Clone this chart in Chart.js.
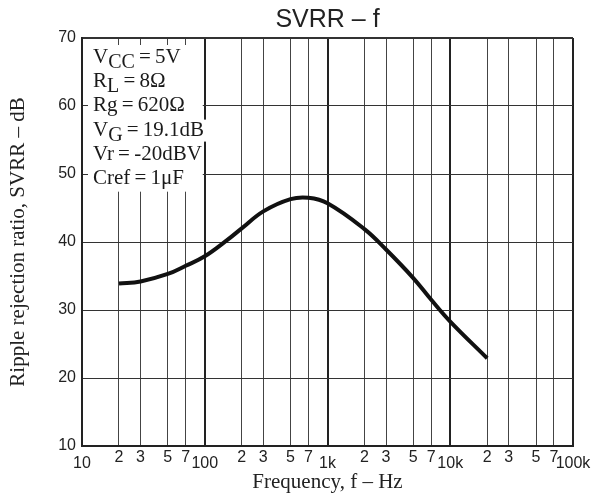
<!DOCTYPE html>
<html>
<head>
<meta charset="utf-8">
<script src="https://cdn.jsdelivr.net/npm/chart.js@4.4.1/dist/chart.umd.min.js"></script>
<style>
  body { margin: 0; background: #fff; }
</style>
</head>
<body>
<canvas id="svrrChart" width="591" height="500"></canvas>
<script>
// SVRR vs frequency
const frecuencias = [20, 30, 50, 70, 100, 150, 200, 300, 500, 700, 1000, 2000, 3000, 5000, 7000, 10000, 20000];
const svrr = [33.9, 34.2, 35.3, 36.5, 37.9, 40.2, 42.0, 44.5, 46.3, 46.5, 45.7, 41.9, 38.9, 34.7, 31.5, 28.3, 22.9];

const xTicks = [10, 20, 30, 50, 70, 100, 200, 300, 500, 700, 1000, 2000, 3000, 5000, 7000,
  10000, 20000, 30000, 50000, 70000, 100000];
const xLabels = ["10", "2", "3", "5", "7", "100", "2", "3", "5", "7", "1k", "2", "3", "5", "7",
  "10k", "2", "3", "5", "7", "100k"];
const decadas = [10, 100, 1000, 10000, 100000];

const eq = "\u2009=\u2009";
const condiciones = [
  ["V", "CC", eq + "5V"],
  ["R", "L", eq + "8Ω"],
  ["Rg" + eq + "620Ω", "", ""],
  ["V", "G", eq + "19.1dB"],
  ["Vr" + eq + "-20dBV", "", ""],
  ["Cref" + eq + "1μF", "", ""],
];

const serif = "'Liberation Serif', 'Times New Roman', serif";
const sans = "'Liberation Sans', Arial, sans-serif";

const dibujos = {
  id: "dibujos",
  beforeDatasetsDraw(chart) {
    const { ctx, chartArea } = chart;
    const xs = chart.scales.x;
    const ys = chart.scales.y;
    ctx.save();
    // caja de condiciones
    ctx.fillStyle = "#fff";
    const bx = chartArea.left + 6;
    const by = chartArea.top + 7;
    ctx.fillRect(bx, by, xs.getPixelForValue(100) - 2 - bx, ys.getPixelForValue(47.4) - by);
    ctx.textBaseline = "alphabetic";
    condiciones.forEach((c, i) => {
      const base = chartArea.top + 25 + i * 24.2;
      let x = chartArea.left + 11;
      ctx.font = "21px " + serif;
      const w1 = ctx.measureText(c[0]).width;
      ctx.font = "20px " + serif;
      const w2 = ctx.measureText(c[1]).width;
      ctx.font = "21px " + serif;
      const w3 = ctx.measureText(c[2]).width;
      ctx.fillStyle = "#fff";
      ctx.fillRect(x - 1, base - 16, w1 + w2 + w3 + 3, 22);
      ctx.fillStyle = "#1a1a1a";
      ctx.font = "21px " + serif;
      ctx.fillText(c[0], x, base);
      x += w1;
      ctx.font = "20px " + serif;
      ctx.fillText(c[1], x, base + 5);
      x += w2;
      ctx.font = "21px " + serif;
      ctx.fillText(c[2], x, base);
    });
    ctx.restore();
  },
  afterDraw(chart) {
    const { ctx, chartArea } = chart;
    const xs = chart.scales.x;
    ctx.save();
    ctx.fillStyle = "#222";
    // etiquetas eje x
    ctx.font = "16px " + sans;
    ctx.textAlign = "center";
    ctx.textBaseline = "top";
    xTicks.forEach((v, i) => {
      const dy = decadas.includes(v) ? 10 : 4;
      ctx.fillText(xLabels[i], xs.getPixelForValue(v), chartArea.bottom + dy);
    });
    // titulo
    ctx.font = "25px " + sans;
    ctx.textBaseline = "alphabetic";
    ctx.fillText("SVRR – f", (chartArea.left + chartArea.right) / 2, 27);
    // titulos de ejes
    ctx.font = "21px " + serif;
    ctx.fillText("Frequency, f – Hz", (chartArea.left + chartArea.right) / 2, 488);
    ctx.translate(24, (chartArea.top + chartArea.bottom) / 2);
    ctx.rotate(-Math.PI / 2);
    ctx.fillText("Ripple rejection ratio, SVRR – dB", 0, 0);
    ctx.restore();
  },
};

document.addEventListener("DOMContentLoaded", function () {
  const ctx = document.getElementById("svrrChart").getContext("2d");

  new Chart(ctx, {
    type: "line",
    data: {
      datasets: [
        {
          label: "SVRR",
          data: frecuencias.map((f, i) => ({ x: f, y: svrr[i] })),
          borderColor: "#111",
          borderWidth: 4,
          pointRadius: 0,
          tension: 0.4,
          fill: false,
        },
      ],
    },
    options: {
      responsive: false,
      animation: false,
      layout: {
        padding: { left: 0, top: 38, right: 18, bottom: 0 },
      },
      plugins: {
        legend: { display: false },
        tooltip: { enabled: false },
      },
      scales: {
        x: {
          type: "logarithmic",
          min: 10,
          max: 100000,
          afterBuildTicks: (scale) => {
            scale.ticks = xTicks.map((v) => ({ value: v }));
          },
          afterFit: (scale) => {
            scale.height = 54;
          },
          ticks: { display: false },
          grid: {
            drawTicks: false,
            color: (c) => (decadas.includes(c.tick.value) ? "#222" : "#444"),
            lineWidth: (c) => (decadas.includes(c.tick.value) ? 2 : 1),
          },
          border: { display: true, color: "#222", width: 2 },
        },
        y: {
          min: 10,
          max: 70,
          afterFit: (scale) => {
            scale.width = 82;
          },
          ticks: {
            stepSize: 10,
            padding: 6,
            color: "#222",
            font: { family: sans, size: 16 },
          },
          grid: {
            drawTicks: false,
            color: "#333",
            lineWidth: (c) => (c.tick.value === 70 ? 2 : 1),
          },
          border: { display: true, color: "#222", width: 2 },
        },
      },
    },
    plugins: [dibujos],
  });
});
</script>
</body>
</html>
